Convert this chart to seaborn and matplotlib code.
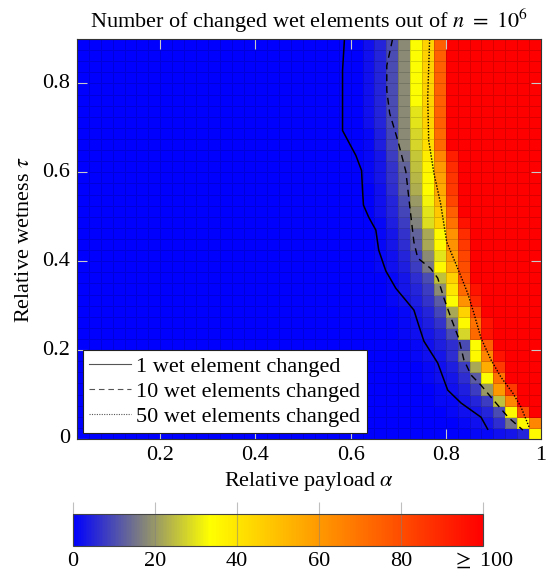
import numpy as np
import seaborn as sns
import matplotlib
matplotlib.use("Agg")
import matplotlib.pyplot as plt
from matplotlib.colors import LinearSegmentedColormap

# Cell grid: alpha edges 0.025..1, tau edges 0..0.9, step 0.025
step = 0.025
alpha_lo = 0.025
n_alpha = 39
n_tau = 36
ramp_col = 25  # first column (alpha = 0.625) where the listed values start

# Values per tau row (row 0 = tau 0..0.025), from alpha 0.625 on; padded with 100
ramp_rows = [
    [0, 0, 0, 0, 0, 0, 0, 0, 0, 1, 1, 2, 3, 5, 35],
    [0, 0, 0, 0, 0, 0, 0, 0, 1, 2, 3, 6, 15, 35, 65],
    [0, 0, 0, 0, 0, 0, 0, 1, 2, 3, 5, 10, 35, 80],
    [0, 0, 0, 0, 0, 0, 1, 1, 3, 5, 8, 25, 65],
    [0, 0, 0, 0, 0, 0, 1, 2, 4, 8, 20, 60, 85],
    [0, 0, 0, 0, 0, 1, 2, 3, 6, 12, 33, 70],
    [0, 0, 0, 0, 0, 1, 2, 4, 8, 22, 55, 85],
    [0, 0, 0, 0, 1, 2, 3, 6, 15, 35, 65, 95],
    [0, 0, 0, 0, 1, 2, 4, 6, 10, 33, 75],
    [0, 0, 0, 1, 2, 3, 5, 10, 28, 72, 95],
    [0, 0, 0, 1, 2, 4, 7, 16, 35, 70, 95],
    [0, 0, 0, 1, 3, 5, 9, 22, 45, 80],
    [0, 0, 1, 2, 4, 7, 12, 33, 62, 90],
    [0, 0, 1, 3, 5, 8, 18, 40, 72, 95],
    [0, 0, 1, 3, 6, 10, 25, 45, 78],
    [0, 1, 2, 4, 8, 16, 35, 55, 80],
    [0, 1, 2, 5, 9, 18, 30, 58, 82],
    [0, 1, 3, 6, 12, 22, 35, 62, 85],
    [0, 1, 3, 7, 13, 22, 35, 62, 88],
    [0, 1, 4, 8, 17, 29, 45, 70, 95],
    [0, 2, 5, 9, 18, 30, 48, 75],
    [0, 2, 5, 10, 20, 32, 52, 82],
    [0, 2, 6, 12, 23, 34, 56, 85],
    [1, 3, 7, 12, 24, 35, 58, 86],
    [1, 3, 7, 13, 25, 36, 60, 88],
    [1, 3, 8, 15, 26, 38, 65, 92],
    [1, 4, 9, 18, 28, 42, 72],
    [1, 4, 9, 18, 28, 42, 72],
    [2, 5, 10, 18, 30, 45, 75],
    [2, 5, 10, 18, 30, 45, 75],
    [2, 5, 10, 18, 33, 45, 75],
    [2, 5, 10, 18, 33, 45, 75],
    [2, 5, 10, 18, 33, 45, 75],
    [2, 5, 10, 18, 33, 45, 75],
    [2, 5, 10, 18, 33, 45, 75],
    [2, 5, 10, 18, 33, 45, 75],
]

# Contour lines (alpha, tau)
line1_alpha = [0.587, 0.583, 0.583, 0.583, 0.594, 0.611, 0.623, 0.625, 0.627, 0.638,
               0.653, 0.659, 0.674, 0.695, 0.716, 0.733, 0.743, 0.754, 0.783, 0.804,
               0.832, 0.874, 0.888]
line1_tau = [0.899, 0.829, 0.762, 0.694, 0.672, 0.638, 0.604, 0.560, 0.526, 0.499,
             0.470, 0.425, 0.378, 0.339, 0.312, 0.290, 0.256, 0.220, 0.171, 0.110,
             0.081, 0.049, 0.022]
line10_alpha = [0.688, 0.676, 0.676, 0.682, 0.699, 0.716, 0.724, 0.733, 0.741, 0.768,
                0.783, 0.796, 0.811, 0.827, 0.838, 0.853, 0.874, 0.895, 0.931, 0.962]
line10_tau = [0.899, 0.840, 0.784, 0.733, 0.672, 0.602, 0.526, 0.443, 0.407, 0.384,
              0.362, 0.317, 0.272, 0.227, 0.178, 0.144, 0.121, 0.094, 0.049, 0.020]
line50_alpha = [0.766, 0.762, 0.764, 0.775, 0.789, 0.802, 0.825, 0.846, 0.859, 0.874,
                0.895, 0.916, 0.941, 0.958, 0.975]
line50_tau = [0.899, 0.769, 0.672, 0.598, 0.530, 0.443, 0.384, 0.328, 0.283, 0.227,
              0.178, 0.139, 0.103, 0.072, 0.027]

x_ticks = [0.2, 0.4, 0.6, 0.8, 1.0]
x_tick_labels = ["0.2", "0.4", "0.6", "0.8", "1"]
y_ticks = [0.0, 0.2, 0.4, 0.6, 0.8]
y_tick_labels = ["0", "0.2", "0.4", "0.6", "0.8"]
cbar_ticks = [0, 20, 40, 60, 80, 100]
cbar_labels = ["0", "20", "40", "60", "80", r"$\geq$ 100"]

# build the matrix
grid = []
for ramp in ramp_rows:
    row = [0] * (ramp_col - 1) + ramp + [100] * (n_alpha - (ramp_col - 1) - len(ramp))
    grid.append(row)
grid = np.array(grid, dtype=float)

plt.rcParams["font.family"] = ["Liberation Serif", "DejaVu Serif"]
plt.rcParams["mathtext.fontset"] = "stix"
fs = 16

cmap = LinearSegmentedColormap.from_list(
    "byr", [(0.0, (0, 0, 1)), (1 / 3, (1, 1, 0)), (1.0, (1, 0, 0))])

fig = plt.figure(figsize=(5.5, 5.74), dpi=100)
ax = fig.add_axes([0.14, 0.2352, 0.8436, 0.6969])
cax = fig.add_axes([0.1327, 0.0488, 0.7455, 0.0557])

sns.heatmap(grid, ax=ax, cmap=cmap, vmin=0, vmax=100, linewidths=0.4,
            linecolor=(0, 0, 0, 0.14), cbar_ax=cax,
            cbar_kws={"orientation": "horizontal"})
ax.invert_yaxis()


def to_col(a):
    return [(v - alpha_lo) / step for v in a]


def to_row(t):
    return [v / step for v in t]


ax.plot(to_col(line1_alpha), to_row(line1_tau), color="black", lw=1.1, ls="-",
        label="1 wet element changed")
ax.plot(to_col(line10_alpha), to_row(line10_tau), color="black", lw=1.0,
        ls=(0, (5, 3.5)), label="10 wet elements changed")
ax.plot(to_col(line50_alpha), to_row(line50_tau), color="black", lw=1.0,
        ls=(0, (1, 1.2)), label="50 wet elements changed")

ax.set_xlim(0, n_alpha)
ax.set_ylim(0, n_tau)
ax.set_xticks(to_col(x_ticks))
ax.set_xticklabels(x_tick_labels, rotation=0)
ax.set_yticks(to_row(y_ticks))
ax.set_yticklabels(y_tick_labels, rotation=0)
ax.tick_params(direction="in", length=7, width=0.8, color="#c8c8c8",
               top=True, right=True, labelsize=fs, pad=5)
for s in ax.spines.values():
    s.set_visible(True)
    s.set_color("#333333")
    s.set_linewidth(0.8)

ax.set_title(r"Number of changed wet elements out of $n\ =\ 10^6$", fontsize=fs, pad=8)
ax.set_xlabel(r"Relative payload $\alpha$", fontsize=fs, labelpad=4)
ax.set_ylabel(r"Relative wetness $\tau$", fontsize=fs, labelpad=6)

leg = ax.legend(loc="lower left", fontsize=fs, frameon=True, fancybox=False,
                edgecolor="#222222", framealpha=1, handlelength=1.9,
                handletextpad=0.2, labelspacing=0.2, borderaxespad=0.25,
                borderpad=0.3)
leg.get_frame().set_linewidth(0.8)
for h in leg.get_lines():
    h.set_color("#555555")
    h.set_linewidth(0.8)

cax.set_xticks(cbar_ticks)
cax.set_xticklabels(cbar_labels)
cax.tick_params(direction="in", length=32, width=0.8, color=(0.5, 0.5, 0.5, 0.5),
                labelsize=fs, pad=4)
cax.xaxis.set_ticks_position("bottom")
cbar = ax.collections[0].colorbar
cbar.outline.set_edgecolor("#444444")
cbar.outline.set_linewidth(0.8)

fig.savefig("out.png", dpi=100)
